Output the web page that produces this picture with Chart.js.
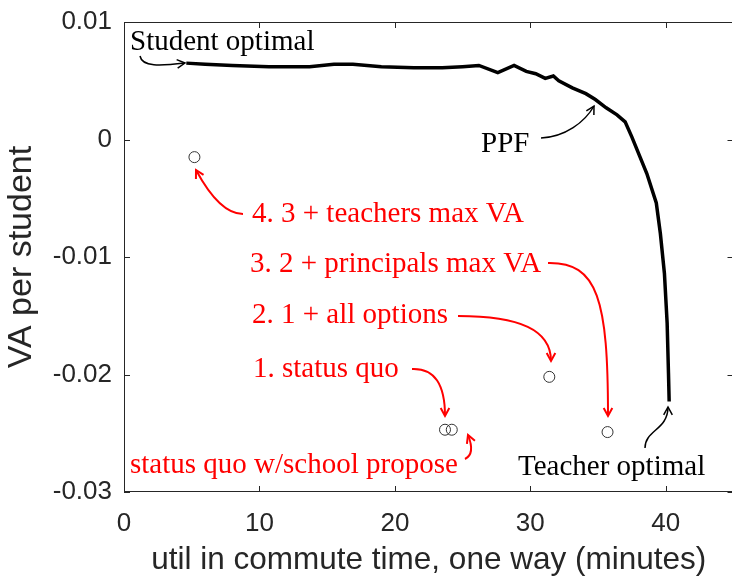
<!DOCTYPE html>
<html>
<head>
<meta charset="utf-8">
<script src="https://cdn.jsdelivr.net/npm/chart.js@4"></script>
<style>
    html, body { margin: 0; padding: 0; background: #fff; overflow: hidden; }
    #wrap { width: 740px; height: 579px; }
</style>
</head>
<body>
<div id="wrap"><canvas id="ppfChart" width="740" height="579"></canvas></div>
<script>
// PPF (frontera de posibilidades de produccion)
const ppfX = [4.6, 6.0, 8.0, 10.7, 13.7, 15.5, 16.9, 19.0, 21.4, 23.5, 25.0, 26.2, 27.6, 28.8, 29.7, 30.4,
    31.1, 31.7, 32.1, 33.1, 34.1, 34.8, 35.6, 36.4, 37.0, 37.5, 38.6, 39.3, 39.6, 39.9, 40.1, 40.2, 40.25];
const ppfY = [0.0065, 0.0064, 0.0063, 0.0062, 0.0062, 0.0064, 0.0064, 0.0062, 0.0061, 0.0061, 0.0062, 0.0063,
    0.0057, 0.0063, 0.0058, 0.0056, 0.0052, 0.0054, 0.0050, 0.0044, 0.0039, 0.0034, 0.0027, 0.0021, 0.0015,
    0.0002, -0.0029, -0.0054, -0.0080, -0.0114, -0.0156, -0.0199, -0.0223];

// escenarios (circulos)
const escenariosX = [5.2, 23.7, 24.2, 31.4, 35.7];
const escenariosY = [-0.0015, -0.0247, -0.0247, -0.0202, -0.0249];

// ejes
const xTicks = [0, 10, 20, 30, 40];
const xTickLabels = ['0', '10', '20', '30', '40'];
const yTicks = [-0.03, -0.02, -0.01, 0, 0.01];
const yTickLabels = ['-0.03', '-0.02', '-0.01', '0', '0.01'];
const xTitulo = 'util in commute time, one way (minutes)';
const yTitulo = 'VA per student';

// textos y flechas de anotacion (pixeles)
const notas = [
    { text: 'Student optimal', x: 130, y: 50, color: '#000' },
    { text: 'PPF', x: 481, y: 152, color: '#000' },
    { text: 'Teacher optimal', x: 518, y: 475, color: '#000' },
    { text: '4. 3 + teachers max VA', x: 252, y: 222, color: '#ff0000' },
    { text: '3. 2 + principals max VA', x: 250, y: 272, color: '#ff0000' },
    { text: '2. 1 + all options', x: 252, y: 323, color: '#ff0000' },
    { text: '1. status quo', x: 253, y: 377, color: '#ff0000' },
    { text: 'status quo w/school propose', x: 130, y: 473, color: '#ff0000' }
];
const flechas = [
    { p: [140, 56, 142, 67, 160, 66, 185, 63], color: '#000', w: 1.5 },
    { p: [541, 138, 565, 137, 585, 122, 594, 106], color: '#000', w: 1.5 },
    { p: [645, 448, 645, 430, 668, 430, 668, 407], color: '#000', w: 1.5 },
    { p: [243, 214, 225, 214, 210, 196, 196, 170], color: '#ff0000', w: 2 },
    { p: [548, 263, 598, 262, 608, 300, 608, 416], color: '#ff0000', w: 2 },
    { p: [458, 316, 520, 316, 551, 330, 551, 361], color: '#ff0000', w: 2 },
    { p: [412, 369, 435, 368, 445, 385, 445, 416], color: '#ff0000', w: 2 },
    { p: [465, 459, 473, 455, 472, 445, 468, 435], color: '#ff0000', w: 2 }
];

const EJE_COLOR = '#262626';

const marcoPlugin = {
    id: 'marco',
    afterDraw(chart) {
        const ctx = chart.ctx;
        const a = chart.chartArea;
        const xs = chart.scales.x;
        const ys = chart.scales.y;
        ctx.save();
        ctx.strokeStyle = EJE_COLOR;
        ctx.lineWidth = 1;
        ctx.strokeRect(a.left + 0.5, a.top + 0.5, a.right - a.left - 1, a.bottom - a.top - 1);
        ctx.beginPath();
        xTicks.forEach(v => {
            const px = Math.round(xs.getPixelForValue(v)) + 0.5;
            ctx.moveTo(px, a.bottom); ctx.lineTo(px, a.bottom - 6);
            ctx.moveTo(px, a.top); ctx.lineTo(px, a.top + 6);
        });
        yTicks.forEach(v => {
            const py = Math.round(ys.getPixelForValue(v)) + 0.5;
            ctx.moveTo(a.left, py); ctx.lineTo(a.left + 6, py);
            ctx.moveTo(a.right, py); ctx.lineTo(a.right - 6, py);
        });
        ctx.stroke();

        // flechas
        flechas.forEach(f => {
            const p = f.p;
            ctx.strokeStyle = f.color;
            ctx.lineWidth = f.w;
            ctx.beginPath();
            ctx.moveTo(p[0], p[1]);
            ctx.bezierCurveTo(p[2], p[3], p[4], p[5], p[6], p[7]);
            ctx.stroke();
            const ang = Math.atan2(p[7] - p[5], p[6] - p[4]);
            const L = 9;
            ctx.beginPath();
            ctx.moveTo(p[6] - L * Math.cos(ang - 0.5), p[7] - L * Math.sin(ang - 0.5));
            ctx.lineTo(p[6], p[7]);
            ctx.lineTo(p[6] - L * Math.cos(ang + 0.5), p[7] - L * Math.sin(ang + 0.5));
            ctx.stroke();
        });

        // textos
        ctx.font = '29px "Liberation Serif", "Times New Roman", serif';
        ctx.textAlign = 'left';
        ctx.textBaseline = 'alphabetic';
        notas.forEach(n => {
            ctx.fillStyle = n.color;
            ctx.fillText(n.text, n.x, n.y);
        });
        ctx.restore();
    }
};

new Chart(document.getElementById('ppfChart'), {
    type: 'scatter',
    data: {
        datasets: [
            {
                label: 'PPF',
                data: ppfX.map((x, i) => ({ x: x, y: ppfY[i] })),
                showLine: true,
                borderColor: '#000',
                borderWidth: 3.5,
                pointRadius: 0,
                tension: 0
            },
            {
                label: 'escenarios',
                data: escenariosX.map((x, i) => ({ x: x, y: escenariosY[i] })),
                showLine: false,
                pointRadius: 5.5,
                pointBorderWidth: 1,
                pointBorderColor: '#333',
                pointBackgroundColor: 'rgba(0,0,0,0)'
            }
        ]
    },
    options: {
        responsive: false,
        animation: false,
        devicePixelRatio: 1,
        layout: { padding: { top: 22, right: 5.5, left: 0, bottom: 0 } },
        plugins: { legend: { display: false }, tooltip: { enabled: false } },
        scales: {
            x: {
                type: 'linear', min: 0, max: 45,
                grid: { display: false, drawTicks: false },
                border: { display: false },
                afterBuildTicks: s => { s.ticks = xTicks.map(v => ({ value: v })); },
                afterFit: s => { s.height = 87; s.paddingLeft = 0; s.paddingRight = 0; },
                ticks: {
                    padding: 16,
                    color: EJE_COLOR,
                    font: { family: '"Liberation Sans", Arial, sans-serif', size: 26 },
                    callback: (v) => xTickLabels[xTicks.indexOf(v)]
                },
                title: {
                    display: true, text: xTitulo, color: EJE_COLOR,
                    font: { family: '"Liberation Sans", Arial, sans-serif', size: 31.5 },
                    padding: { top: 0, bottom: 0 }
                }
            },
            y: {
                type: 'linear', min: -0.03, max: 0.01,
                grid: { display: false, drawTicks: false },
                border: { display: false },
                afterBuildTicks: s => { s.ticks = yTicks.map(v => ({ value: v })); },
                afterFit: s => { s.width = 124; s.paddingTop = 0; s.paddingBottom = 0; },
                ticks: {
                    padding: 12,
                    color: EJE_COLOR,
                    font: { family: '"Liberation Sans", Arial, sans-serif', size: 26 },
                    callback: (v) => yTickLabels[yTicks.findIndex(t => Math.abs(t - v) < 1e-9)]
                },
                title: {
                    display: true, text: yTitulo, color: EJE_COLOR,
                    font: { family: '"Liberation Sans", Arial, sans-serif', size: 34 },
                    padding: { top: 1, bottom: 0 }
                }
            }
        }
    },
    plugins: [marcoPlugin]
});
</script>
</body>
</html>
